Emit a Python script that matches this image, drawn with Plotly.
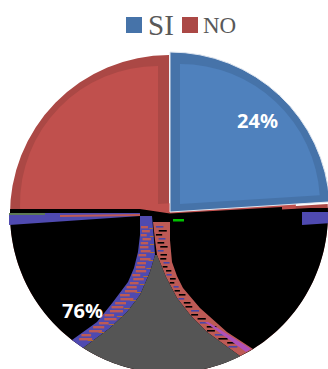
import math
import numpy as np
import plotly.graph_objects as go

# Survey answers
categories = ["SI", "NO"]
shares = [24, 76]

BLUE, BLUE_EDGE = "#4f81bd", "#4673a9"
RED, RED_EDGE = "#c0504d", "#ab4845"
CLEAR = "rgba(0,0,0,0)"
PURPLE, STRIPE_RED, GREY = "#4f4ab0", "#bd5a55", "#555555"

W, H = 335, 385


def px(x):
    return x / W


def py(y):
    return 1 - y / H


def domain(cx, cy, r):
    return dict(x=[px(cx - r), px(cx + r)], y=[py(cy + r), py(cy - r)])


def wedge(cx, cy, r, colors, line_w=0):
    return go.Pie(
        labels=categories, values=shares, sort=False, direction="clockwise",
        rotation=0, domain=domain(cx, cy, r), textinfo="none", hoverinfo="skip",
        showlegend=False,
        marker=dict(colors=colors, line=dict(color="#dfe6f0", width=[line_w, 0])),
    )


def arc(a_from, a_to, n=40, cx=169, cy=214, r=159):
    return [(cx + r * math.cos(math.radians(a)), cy + r * math.sin(math.radians(a)))
            for a in np.linspace(a_from, a_to, n)]


def poly(points, color):
    d = "M" + "L".join(f"{px(x):.5f},{py(y):.5f}" for x, y in points) + "Z"
    return dict(type="path", xref="paper", yref="paper", path=d,
                fillcolor=color, line=dict(width=0), layer="above")


def angle(x, y):
    return math.degrees(math.atan2(y - 214, x - 169)) % 360


# Edges of the broken-up area below the pie centre
left_outer = [(140, 216), (140, 235), (138, 252), (134, 268), (128, 282), (113, 302), (97, 322), (72, 340)]
left_inner = [(152, 216), (154, 240), (155, 255), (150, 272), (140, 295), (127, 312), (110, 328), (83, 348)]
right_inner = [(153, 222), (155, 240), (157, 255), (166, 277), (177, 298), (191, 316), (207, 332), (240, 356)]
right_outer = [(170, 222), (170, 240), (172, 262), (177, 276), (183, 288), (200, 308), (227, 332), (253, 349)]

shapes = []

# Black field covering the lower part of the disc
shapes.append(poly(
    [(9, 209), (140, 209), (170, 213.5), (282, 207), (282, 209.5), (330, 207)]
    + arc(angle(330, 207) - 360, angle(9, 209), 120),
    "#000000"))

# Coloured wedges along the upper edge of the black field
shapes.append(poly([(9, 213), (140, 213), (140, 216), (9, 225)], PURPLE))
shapes.append(poly([(9, 213), (45, 213), (45, 215), (9, 215)], "#5d7a55"))
shapes.append(poly([(60, 215), (140, 214), (140, 216), (60, 217)], STRIPE_RED))
shapes.append(poly([(302, 212), (330, 212), (330, 223), (302, 225)], PURPLE))
shapes.append(poly([(173, 219), (184, 219), (184, 221.5), (173, 221.5)], "#00c000"))

# Curved bands and the grey wedge between them
shapes.append(poly(left_outer + left_inner[::-1], PURPLE))
shapes.append(poly(right_outer + right_inner[::-1], STRIPE_RED))
shapes.append(poly(left_inner[2:] + arc(angle(83, 348), angle(240, 356), 30) + right_inner[2:][::-1], GREY))


def edge_x(edge, y):
    xs, ys = zip(*edge)
    return float(np.interp(y, ys, xs))


def streak(edge_a, edge_b, y, a, b, thick, color):
    x0, x1 = edge_x(edge_a, y), edge_x(edge_b, y)
    return poly([(x0 + (x1 - x0) * a, y), (x0 + (x1 - x0) * b, y),
                 (x0 + (x1 - x0) * b, y + thick), (x0 + (x1 - x0) * a, y + thick)], color)


# Horizontal streaks across the two bands
left_spans = [(0.08, 0.62), (0.15, 0.75), (0.05, 0.5), (0.2, 0.8), (0.1, 0.6)]
for i, y in enumerate(range(226, 342, 4)):
    a, b = left_spans[i % len(left_spans)]
    shapes.append(streak(left_outer, left_inner, y, a, b, 2.4, STRIPE_RED))
    if i % 2 == 0:
        shapes.append(streak(left_outer, left_inner, y + 2, 0.72, 0.98, 1, "#b06a30"))

right_spans = [(0.15, 0.6), (0.3, 0.8), (0.1, 0.5), (0.25, 0.7)]
for i, y in enumerate(range(226, 350, 4)):
    a, b = right_spans[i % len(right_spans)]
    color = "#000000" if i % 3 else "#4a46a8"
    shapes.append(streak(right_inner, right_outer, y, a, b, 1.6, color))
shapes.append(poly([(205, 322), (208, 322), (251, 349), (246, 352)], "#b050b8"))

# Legend swatches
shapes.append(poly([(126, 17), (142, 17), (142, 33), (126, 33)], BLUE_EDGE))
shapes.append(poly([(182, 17), (198, 17), (198, 33), (182, 33)], RED_EDGE))


def note(x, y, text, size, color, family, bold=False, anchor="left"):
    return dict(x=px(x), y=py(y), xref="paper", yref="paper", text=f"<b>{text}</b>" if bold else text,
                showarrow=False, xanchor=anchor, yanchor="middle", borderpad=0,
                font=dict(size=size, color=color, family=family))


annotations = [
    note(147, 25, categories[0], 29, "#595959", "Liberation Serif"),
    note(202, 25, categories[1], 23, "#595959", "Liberation Serif"),
    note(257.5, 120.5, f"{shares[0]}%", 20, "white", "Noto Sans", True, "center"),
    note(82, 310, f"{shares[1]}%", 20, "white", "Noto Sans", True, "center"),
]

fig = go.Figure([
    wedge(169, 214, 159, [CLEAR, RED_EDGE]),
    wedge(158, 204, 138, [CLEAR, RED]),
    wedge(170, 212, 160, [BLUE_EDGE, CLEAR], 1),
    wedge(180, 204, 140, [BLUE, CLEAR]),
])
fig.update_layout(
    width=W, height=H, margin=dict(l=0, r=0, t=0, b=0),
    paper_bgcolor="white", plot_bgcolor="white", showlegend=False,
    shapes=shapes, annotations=annotations,
)
fig.write_html(
    "out.html",
    post_script="document.documentElement.style.overflow='hidden';document.body.style.overflow='hidden';",
)
